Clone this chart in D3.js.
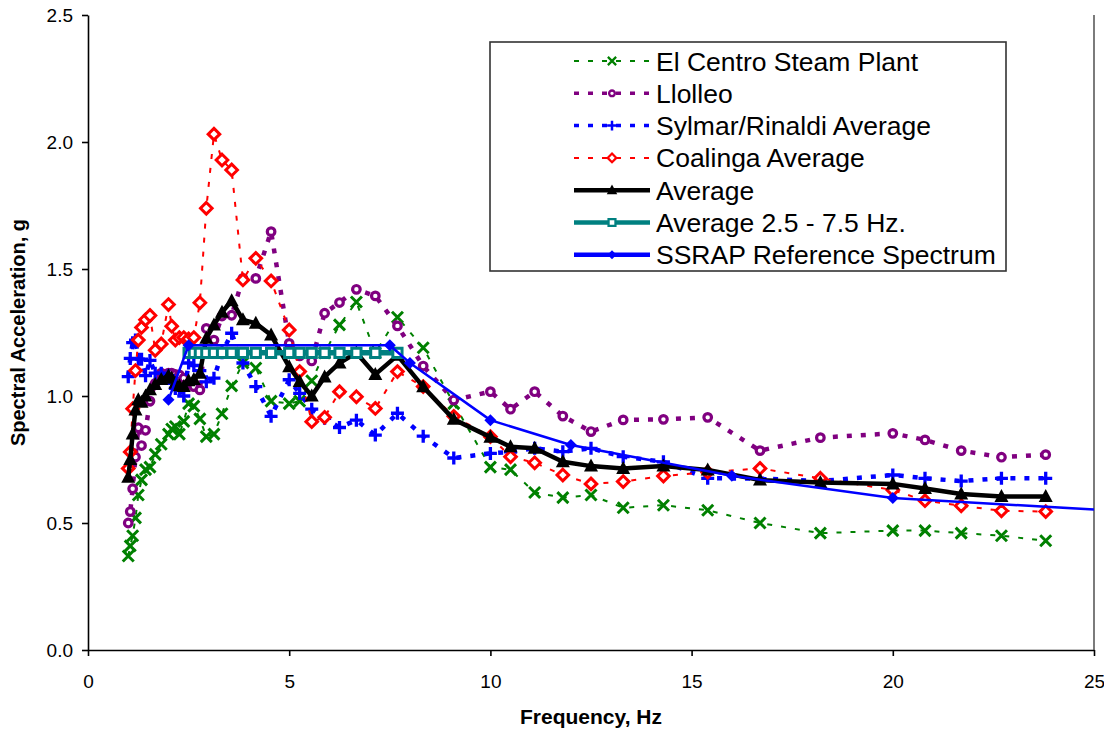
<!DOCTYPE html>
<html>
<head>
<meta charset="utf-8">
<script src="https://cdn.jsdelivr.net/npm/d3@7"></script>
<style>
  html, body { margin: 0; padding: 0; background: #fff; }
  svg { display: block; font-family: "Liberation Sans", Arial, sans-serif; }
</style>
</head>
<body>
<svg id="chart" width="1104" height="730"></svg>
<script>
// Response spectra, frequency in Hz, spectral acceleration in g
const freqs = [1.0, 1.05, 1.11, 1.18, 1.25, 1.33, 1.43, 1.54, 1.67, 1.82,
  2.0, 2.08, 2.17, 2.27, 2.38, 2.5, 2.63, 2.78, 2.94, 3.13,
  3.33, 3.57, 3.85, 4.17, 4.55, 5.0, 5.26, 5.56, 5.88, 6.25,
  6.67, 7.14, 7.69, 8.33, 9.09, 10.0, 10.5, 11.1, 11.8, 12.5,
  13.3, 14.3, 15.4, 16.7, 18.2, 20.0, 20.8, 21.7, 22.7, 23.8];

const elCentro = [0.37, 0.41, 0.45, 0.52, 0.61, 0.67, 0.71, 0.72, 0.77, 0.81,
  0.85, 0.87, 0.88, 0.85, 0.90, 0.97, 0.96, 0.91, 0.84, 0.85,
  0.93, 1.04, 1.13, 1.11, 0.98, 0.97, 0.98, 1.06, 1.17, 1.28,
  1.37, 1.17, 1.31, 1.19, 0.97, 0.72, 0.71, 0.62, 0.60, 0.61,
  0.56, 0.57, 0.55, 0.50, 0.46, 0.47, 0.47, 0.46, 0.45, 0.43];

const llolleo = [0.50, 0.545, 0.635, 0.76, 0.875, 0.805, 0.865, 0.98, 1.05, 1.09,
  1.09, 1.09, 1.085, 1.083, 1.07, 1.05, 1.037, 1.024, 1.266, 1.22,
  1.315, 1.318, 1.463, 1.463, 1.647, 1.207, 1.158, 1.138, 1.326, 1.368,
  1.42, 1.394, 1.276, 1.118, 0.984, 1.017, 0.948, 1.017, 0.921, 0.86,
  0.906, 0.908, 0.916, 0.785, 0.836, 0.853, 0.827, 0.785, 0.759, 0.769];

const sylmar = [1.076, 1.148, 1.21, 1.22, 1.145, 1.145, 1.08, 1.14, 1.09, 1.09,
  1.08, 1.05, 1.03, 1.026, 1.0, 1.13, 1.12, 1.10, 1.056, 1.07,
  1.17, 1.247, 1.13, 1.037, 0.92, 1.064, 1.01, 0.948, 0.912, 0.876,
  0.905, 0.846, 0.932, 0.842, 0.756, 0.774, 0.78, 0.794, 0.781, 0.794,
  0.761, 0.741, 0.676, 0.675, 0.665, 0.689, 0.676, 0.665, 0.676, 0.676];

const coalinga = [0.715, 0.78, 0.95, 1.10, 1.22, 1.27, 1.30, 1.317, 1.18, 1.205,
  1.36, 1.275, 1.22, 1.23, 1.23, 1.225, 1.23, 1.367, 1.739, 2.031,
  1.929, 1.89, 1.457, 1.542, 1.453, 1.26, 1.096, 0.899, 0.916, 1.017,
  0.997, 0.951, 1.096, 1.037, 0.92, 0.84, 0.761, 0.737, 0.689, 0.654,
  0.663, 0.685, 0.70, 0.715, 0.676, 0.63, 0.588, 0.568, 0.548, 0.545];

const average = [0.68, 0.75, 0.85, 0.945, 0.985, 0.975, 1.0, 1.025, 1.045, 1.065,
  1.08, 1.07, 1.05, 1.04, 1.037, 1.06, 1.065, 1.09, 1.227, 1.28,
  1.33, 1.375, 1.30, 1.286, 1.24, 1.115, 1.057, 1.0, 1.075, 1.13,
  1.17, 1.085, 1.16, 1.036, 0.908, 0.838, 0.80, 0.794, 0.741, 0.724,
  0.715, 0.724, 0.709, 0.669, 0.659, 0.654, 0.636, 0.614, 0.604, 0.604];

const bandFreqs = [2.5, 2.63, 2.78, 2.94, 3.13, 3.33, 3.57, 3.85, 4.17, 4.55,
  5.0, 5.26, 5.56, 5.88, 6.25, 6.67, 7.14, 7.69];
const bandValues = [1.17, 1.17, 1.17, 1.17, 1.17, 1.17, 1.17, 1.17, 1.17, 1.17,
  1.17, 1.17, 1.17, 1.17, 1.17, 1.17, 1.17, 1.17];

const ssrapFreqs = [2.0, 2.5, 7.5, 8.0, 10.0, 12.0, 16.0, 20.0, 25.0];
const ssrapValues = [0.985, 1.2, 1.2, 1.13, 0.905, 0.807, 0.686, 0.598, 0.553];

const xTicks = [0, 5, 10, 15, 20, 25];
const yTicks = [0, 0.5, 1.0, 1.5, 2.0, 2.5];

const seriesNames = ["El Centro Steam Plant", "Llolleo", "Sylmar/Rinaldi Average",
  "Coalinga Average", "Average", "Average 2.5 - 7.5 Hz.", "SSRAP Reference Spectrum"];

// ---- layout ----
const svg = d3.select("#chart");
const plot = { left: 88, right: 1094, top: 15, bottom: 650 };

const x = d3.scaleLinear().domain([0, 25]).range([plot.left, plot.right]);
const y = d3.scaleLinear().domain([0, 2.5]).range([plot.bottom, plot.top]);

svg.append("defs").append("clipPath").attr("id", "plotClip")
  .append("rect")
  .attr("x", plot.left).attr("y", plot.top - 10)
  .attr("width", plot.right - plot.left).attr("height", plot.bottom - plot.top + 10);

// ---- marker shapes ----
const markerDefs = {
  cross:   { d: "M-5.5,-5.5L5.5,5.5M-5.5,5.5L5.5,-5.5", fill: "none", sw: 3 },
  circle:  { circle: 3.8, fill: "#fff", sw: 3.2 },
  plus:    { d: "M-6.5,0H6.5M0,-6.5V6.5", fill: "none", sw: 3.3 },
  diamondOpen: { d: "M0,-5.8L5.8,0L0,5.8L-5.8,0Z", fill: "#fff", sw: 3 },
  triangle: { d: "M0,-7.5L7,5.5H-7Z", fill: "fill", sw: 0 },
  square:  { d: "M-4.6,-4.6H4.6V4.6H-4.6Z", fill: "#fff", sw: 3 },
  diamond: { d: "M0,-6L6,0L0,6L-6,0Z", fill: "fill", sw: 0 }
};

function drawMarker(sel, type, color, scale) {
  const m = markerDefs[type];
  const k = scale || 1;
  let el;
  if (m.circle) {
    el = sel.append("circle").attr("r", m.circle * k);
  } else {
    el = sel.append("path").attr("d", m.d)
      .attr("transform", "scale(" + k + ")");
  }
  el.attr("fill", m.fill === "fill" ? color : m.fill)
    .attr("stroke", m.sw ? color : "none")
    .attr("stroke-width", m.circle ? m.sw * k : m.sw);
  return el;
}

const series = [
  { name: seriesNames[0], fx: freqs, vy: elCentro, color: "#008000", width: 2, dash: "5,9", marker: "cross" },
  { name: seriesNames[1], fx: freqs, vy: llolleo, color: "#800080", width: 4.5, dash: "5,9", marker: "circle" },
  { name: seriesNames[2], fx: freqs, vy: sylmar, color: "#0000ff", width: 4.5, dash: "5,9", marker: "plus" },
  { name: seriesNames[3], fx: freqs, vy: coalinga, color: "#ff0000", width: 2, dash: "5,9", marker: "diamondOpen" },
  { name: seriesNames[4], fx: freqs, vy: average, color: "#000000", width: 4.5, dash: null, marker: "triangle" },
  { name: seriesNames[5], fx: bandFreqs, vy: bandValues, color: "#008080", width: 5.5, dash: null, marker: "square" },
  { name: seriesNames[6], fx: ssrapFreqs, vy: ssrapValues, color: "#0000ff", width: 2.5, dash: null, marker: "diamond" }
];

// ---- axes ----
const yAxis = d3.axisLeft(y).tickValues(yTicks).tickFormat(d3.format(".1f"))
  .tickSizeInner(6).tickSizeOuter(0).tickPadding(9);
const xAxis = d3.axisBottom(x).tickValues(xTicks).tickFormat(d3.format("d"))
  .tickSizeInner(6).tickSizeOuter(0).tickPadding(19);

const gy = svg.append("g").attr("transform", `translate(${plot.left},0)`).call(yAxis);
const gx = svg.append("g").attr("transform", `translate(0,${plot.bottom})`).call(xAxis);
[gx, gy].forEach(g => {
  g.select(".domain").attr("stroke", "#000").attr("stroke-width", 1.6);
  g.selectAll(".tick line").attr("stroke", "#000").attr("stroke-width", 1.6);
  g.selectAll(".tick text").attr("fill", "#000")
    .style("font-family", '"Liberation Sans", Arial, sans-serif')
    .style("font-size", "19px");
});

// right frame edge
svg.append("line")
  .attr("x1", plot.right).attr("x2", plot.right)
  .attr("y1", plot.top).attr("y2", plot.bottom)
  .attr("stroke", "#444").attr("stroke-width", 1.4);

// axis titles
svg.append("text")
  .attr("x", x(12.5)).attr("y", 724)
  .attr("text-anchor", "middle")
  .style("font-weight", "bold").style("font-size", "21px")
  .text("Frequency, Hz");

svg.append("text")
  .attr("transform", `translate(25,${y(1.25)}) rotate(-90)`)
  .attr("text-anchor", "middle")
  .style("font-weight", "bold").style("font-size", "20px")
  .text("Spectral Acceleration, g");

// ---- series ----
const plotG = svg.append("g").attr("clip-path", "url(#plotClip)");
const line = d3.line().x(d => x(d[0])).y(d => y(d[1]));

series.forEach(s => {
  const pts = s.fx.map((f, i) => [f, s.vy[i]]);
  const g = plotG.append("g");
  g.append("path")
    .attr("d", line(pts))
    .attr("fill", "none")
    .attr("stroke", s.color)
    .attr("stroke-width", s.width)
    .attr("stroke-dasharray", s.dash)
    .attr("stroke-linejoin", "round");
  pts.filter(p => p[0] < 25).forEach(p => {
    const mg = g.append("g").attr("transform", `translate(${x(p[0])},${y(p[1])})`);
    drawMarker(mg, s.marker, s.color);
  });
});

// ---- legend ----
const legend = svg.append("g");
legend.append("rect")
  .attr("x", 490).attr("y", 42).attr("width", 516).attr("height", 229)
  .attr("fill", "#fff").attr("stroke", "#333").attr("stroke-width", 1.6);

series.forEach((s, i) => {
  const cy = 61 + i * 32.3;
  const row = legend.append("g");
  row.append("line")
    .attr("x1", 574).attr("x2", 650).attr("y1", cy).attr("y2", cy)
    .attr("stroke", s.color)
    .attr("stroke-width", s.dash ? Math.min(s.width, 3.5) : 4.5)
    .attr("stroke-dasharray", s.dash);
  const mg = row.append("g").attr("transform", `translate(612,${cy})`);
  drawMarker(mg, s.marker, s.color, 0.75);
  row.append("text")
    .attr("x", 656).attr("y", cy)
    .attr("dy", "0.36em")
    .style("font-size", "26.5px")
    .text(s.name);
});
</script>
</body>
</html>
